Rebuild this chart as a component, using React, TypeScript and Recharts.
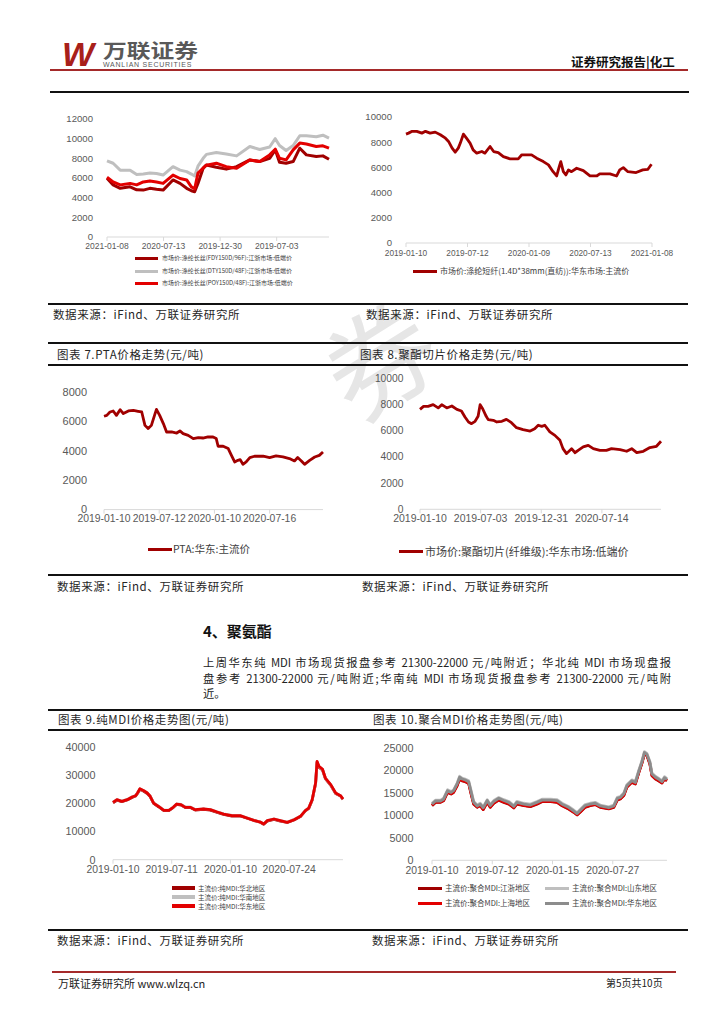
import React from "react";
import { LineChart, Line, XAxis, YAxis } from "recharts";

const CJK = "'Noto Sans CJK SC', 'Noto Sans', sans-serif";
const SANS = "'Liberation Sans', Arial, sans-serif";
const DARK_RED = "#a00000";
const RED = "#e30000";
const LIGHT_GRAY = "#bfbfbf";
const GRAY = "#8c8c8c";

// ---- chart 1: 涤纶长丝 (time runs right to left) ----
const c1Ticks = [0, 120, 240, 360];
const c1Labels = ["2021-01-08", "2020-07-13", "2019-12-30", "2019-07-03"];
const c1Days = [0, 13, 28, 49, 63, 77, 91, 105, 119, 140, 155, 169, 179, 186, 193, 204, 211, 232, 253, 275, 303, 324, 345, 357, 366, 380, 395, 409, 423, 444, 458, 471];
const c1Fdy = [5970, 5300, 4950, 5100, 4800, 4770, 4950, 4850, 4770, 5800, 5450, 4950, 4700, 4600, 5450, 7000, 7330, 7100, 6900, 7150, 7840, 7670, 8000, 8860, 7600, 7500, 7670, 9030, 8350, 8180, 8250, 7900];
const c1Dty = [7750, 7500, 6800, 6800, 6350, 6400, 6500, 6450, 6300, 7150, 6800, 6650, 6400, 6200, 7200, 8000, 8400, 8600, 8450, 8250, 9200, 8900, 9150, 10000, 9300, 8800, 9300, 10300, 10300, 10200, 10350, 10050];
const c1Poy = [6070, 5600, 5300, 5450, 5300, 5600, 5700, 5600, 5450, 6300, 5950, 5800, 5100, 4900, 6500, 7000, 7300, 7500, 7150, 7000, 7840, 7670, 8350, 8930, 8000, 7840, 8860, 9550, 9450, 9200, 9270, 9030];

// ---- chart 2: 涤纶短纤 ----
const c2Ticks = [0, 120, 240, 360, 480];
const c2Labels = ["2019-01-10", "2019-07-12", "2020-01-09", "2020-07-13", "2021-01-08"];
const c2Days = [0, 5, 12, 21, 31, 38, 47, 57, 67, 77, 83, 90, 96, 102, 106, 112, 118, 125, 131, 138, 148, 154, 164, 171, 180, 190, 203, 219, 226, 235, 245, 255, 268, 278, 287, 294, 299, 302, 307, 312, 317, 323, 333, 346, 359, 372, 378, 398, 411, 417, 424, 433, 449, 462, 472, 479];
const c2Psf = [8640, 8720, 8860, 8860, 8720, 8860, 8720, 8800, 8590, 8320, 8060, 7530, 7210, 7530, 7930, 8640, 8320, 7930, 7390, 7130, 7260, 7130, 7660, 7260, 7180, 6860, 6680, 6680, 7000, 7000, 7000, 6730, 6460, 6200, 5660, 5320, 6060, 6460, 5660, 5400, 5800, 5660, 5930, 5740, 5320, 5320, 5480, 5480, 5320, 5800, 5980, 5660, 5590, 5800, 5850, 6250];

// ---- chart 7: PTA ----
const c7Ticks = [0, 120, 240, 360];
const c7Labels = ["2019-01-10", "2019-07-12", "2020-01-10", "2020-07-16"];
const c7Days = [0, 6, 13, 20, 27, 35, 42, 53, 64, 74, 82, 89, 96, 103, 111, 114, 121, 129, 136, 147, 158, 165, 172, 183, 194, 205, 215, 226, 237, 244, 248, 259, 270, 277, 284, 291, 296, 302, 309, 317, 327, 346, 360, 374, 389, 403, 414, 421, 429, 436, 447, 458, 468, 476];
const c7Pta = [6350, 6410, 6640, 6710, 6410, 6800, 6530, 6710, 6750, 6690, 6640, 5730, 5510, 5730, 6530, 6820, 6410, 5850, 5280, 5280, 5210, 5350, 5170, 5050, 4830, 4900, 4870, 4940, 4940, 4830, 4310, 4310, 4150, 3690, 3240, 3350, 3400, 3080, 3240, 3540, 3630, 3630, 3540, 3650, 3580, 3470, 3310, 3540, 3310, 3080, 3350, 3580, 3690, 3920];

// ---- chart 8: 聚酯切片 ----
const c8Ticks = [0, 120, 240, 360];
const c8Labels = ["2019-01-10", "2019-07-03", "2019-12-31", "2020-07-14"];
const c8Days = [0, 7, 16, 26, 36, 43, 53, 63, 73, 82, 89, 96, 102, 109, 115, 119, 124, 131, 135, 145, 152, 162, 171, 181, 191, 204, 218, 227, 234, 241, 247, 257, 267, 277, 283, 290, 300, 307, 313, 323, 333, 343, 356, 369, 379, 396, 409, 419, 429, 442, 455, 468, 477];
const c8Chip = [7610, 7840, 7840, 7970, 7720, 7970, 7720, 7870, 7610, 7490, 7030, 6650, 6520, 6700, 7080, 7970, 7660, 7080, 6830, 6780, 6650, 6700, 6850, 6600, 6220, 6070, 5960, 6140, 6400, 6320, 6400, 5890, 5630, 5250, 4620, 4240, 4620, 4310, 4490, 4750, 4870, 4620, 4490, 4490, 4620, 4540, 4420, 4620, 4310, 4420, 4700, 4800, 5180];

// ---- chart 9: 纯MDI ----
const c9Ticks = [0, 120, 240, 360];
const c9Labels = ["2019-01-10", "2019-07-11", "2020-01-10", "2020-07-24"];
const c9Days = [0, 8, 18, 29, 39, 46, 50, 55, 63, 70, 76, 83, 93, 104, 114, 123, 130, 139, 148, 158, 168, 185, 199, 213, 226, 243, 260, 274, 288, 301, 308, 315, 329, 342, 356, 370, 383, 393, 400, 407, 414, 417, 421, 428, 434, 445, 455, 465, 470];
const c9North = [20200, 21100, 20600, 21200, 22100, 22600, 23500, 25000, 24300, 23500, 22400, 20000, 18800, 17400, 17400, 18500, 19600, 19400, 18500, 18500, 17600, 17900, 17600, 16800, 16100, 15500, 15500, 14700, 13900, 13300, 12600, 13700, 14300, 13700, 13200, 14100, 15300, 17300, 18200, 21100, 27000, 34500, 32800, 31900, 28800, 26400, 23500, 22600, 21400];
const c9South = [20400, 21300, 20800, 21400, 22300, 22800, 23700, 25100, 24500, 23700, 22600, 20200, 19000, 17600, 17600, 18600, 19800, 19600, 18700, 18700, 17800, 18000, 17800, 17000, 16300, 15700, 15700, 14900, 14000, 13400, 12700, 13900, 14500, 13900, 13300, 14300, 15400, 17400, 18400, 21300, 27100, 34700, 33000, 32100, 28900, 26500, 23600, 22700, 21500];
const c9East = [20350, 21300, 20700, 21300, 22250, 22700, 23670, 25200, 24500, 23670, 22500, 20100, 18930, 17510, 17510, 18580, 19760, 19530, 18580, 18580, 17750, 17990, 17750, 16920, 16210, 15620, 15620, 14790, 13960, 13370, 12660, 13850, 14440, 13850, 13250, 14200, 15380, 17400, 18340, 21300, 27220, 34910, 33140, 32190, 28990, 26630, 23670, 22720, 21540];

// ---- chart 10: 聚合MDI ----
const c10Ticks = [0, 120, 240, 360];
const c10Labels = ["2019-01-10", "2019-07-12", "2020-01-15", "2020-07-27"];
const c10Days = [0, 7, 17, 23, 31, 38, 43, 50, 55, 60, 66, 73, 78, 83, 90, 96, 102, 110, 116, 123, 133, 143, 153, 163, 169, 183, 196, 209, 219, 236, 249, 259, 272, 282, 289, 295, 305, 315, 325, 335, 352, 362, 369, 375, 382, 388, 398, 405, 412, 418, 423, 428, 434, 438, 445, 451, 458, 463, 468];
const c10Jiangzhe = [12140, 12880, 12900, 13250, 15100, 14750, 15100, 16600, 18100, 17700, 17500, 17100, 14700, 12500, 11800, 12150, 11300, 12900, 11800, 12700, 13400, 12900, 12500, 11650, 12500, 12150, 11950, 12500, 13050, 13050, 12900, 12150, 11400, 10700, 10100, 10700, 11800, 12150, 12400, 11800, 11450, 11800, 13400, 13650, 14400, 16250, 17350, 17000, 19600, 21600, 23650, 23300, 21400, 18850, 18100, 17700, 17200, 18100, 17700];
const c10Shandong = [12700, 13400, 13400, 13800, 15700, 15300, 15700, 17200, 18700, 18300, 18100, 17700, 15500, 13100, 12300, 12700, 11900, 13500, 12400, 13300, 14000, 13500, 13100, 12200, 13100, 12700, 12500, 13100, 13600, 13600, 13500, 12700, 12000, 11200, 10600, 11300, 12400, 12700, 12900, 12300, 11900, 12300, 14000, 14200, 15000, 16800, 17900, 17600, 20100, 22100, 24200, 23800, 22000, 19400, 18700, 18300, 17700, 18600, 18200];
const c10Shanghai = [12240, 12980, 12980, 13350, 15210, 14840, 15210, 16690, 18180, 17800, 17580, 17210, 14840, 12610, 11870, 12240, 11350, 12980, 11870, 12760, 13500, 12980, 12610, 11720, 12610, 12240, 12020, 12610, 13130, 13130, 12980, 12240, 11500, 10760, 10160, 10760, 11870, 12240, 12460, 11870, 11500, 11870, 13500, 13720, 14470, 16320, 17430, 17060, 19660, 21660, 23740, 23370, 21510, 18920, 18180, 17800, 17280, 18180, 17800];
const c10Huadong = [12500, 13200, 13200, 13600, 15500, 15100, 15500, 17000, 18500, 18100, 17900, 17500, 15200, 12900, 12100, 12500, 11700, 13300, 12200, 13100, 13800, 13300, 12900, 12000, 12900, 12500, 12300, 12900, 13400, 13400, 13300, 12500, 11800, 11000, 10400, 11100, 12200, 12500, 12700, 12100, 11700, 12100, 13800, 14000, 14800, 16600, 17700, 17300, 19900, 21900, 24000, 23600, 21800, 19200, 18500, 18100, 17500, 18400, 18000];

type Series = { name: string; color: string; width: number; xs: number[]; ys: number[] };
type Box = { left: number; right: number; top: number; bottom: number };

const YW = 60;
const MT = 10;
const MR = 30;
const XH = 26;

function PriceChart(props: {
  box: Box;
  yTicks: number[];
  xMax: number;
  xTicks: number[];
  xLabels: string[];
  series: Series[];
  yFont: number;
  xFont: number;
  yGap: number;
  xGap: number;
}) {
  const { box, yTicks, xMax, xTicks, xLabels, series, yFont, xFont, yGap, xGap } = props;
  const left = box.left - YW;
  const top = box.top - MT;
  const width = box.right - left + MR;
  const height = MT + (box.bottom - box.top) + XH;
  return (
    <div style={{ position: "absolute", left, top }}>
      <LineChart width={width} height={height} margin={{ top: MT, right: MR, bottom: 0, left: 0 }}>
        <XAxis
          type="number"
          dataKey="t"
          domain={[0, xMax]}
          ticks={xTicks}
          interval={0}
          tickFormatter={(v: number) => xLabels[xTicks.indexOf(v)] ?? ""}
          height={XH}
          stroke="#d9d9d9"
          tickSize={4}
          tickMargin={xGap}
          tick={{ fontSize: xFont, fill: "#595959", fontFamily: SANS }}
        />
        <YAxis
          type="number"
          domain={[0, yTicks[yTicks.length - 1]]}
          ticks={yTicks}
          interval={0}
          width={YW}
          axisLine={false}
          tickLine={false}
          tickSize={0}
          tickMargin={yGap}
          tick={{ fontSize: yFont, fill: "#595959", fontFamily: SANS }}
        />
        {series.map((s) => (
          <Line
            key={s.name}
            data={s.xs.map((t, i) => ({ t, v: s.ys[i] }))}
            dataKey="v"
            name={s.name}
            type="linear"
            stroke={s.color}
            strokeWidth={s.width}
            strokeLinejoin="round"
            dot={false}
            activeDot={false}
            isAnimationActive={false}
          />
        ))}
      </LineChart>
    </div>
  );
}

function Txt(props: { x: number; y: number; size: number; children: React.ReactNode; style?: React.CSSProperties }) {
  const { x, y, size, children, style } = props;
  return (
    <div
      style={{
        position: "absolute",
        left: x,
        top: y - size / 2,
        fontSize: size,
        lineHeight: `${size}px`,
        whiteSpace: "nowrap",
        ...style,
      }}
    >
      {children}
    </div>
  );
}

function Rule(props: { y: number; x1: number; x2: number; t?: number; color?: string }) {
  const t = props.t ?? 1.5;
  return (
    <div
      style={{
        position: "absolute",
        left: props.x1,
        top: props.y - t / 2,
        width: props.x2 - props.x1,
        height: t,
        background: props.color ?? "#111",
      }}
    />
  );
}

function Key(props: { x: number; y: number; len: number; thick: number; color: string; label: string; size: number; gap: number }) {
  const { x, y, len, thick, color, label, size, gap } = props;
  return (
    <div
      style={{
        position: "absolute",
        left: x,
        top: y - size / 2 - 1,
        height: size + 2,
        display: "flex",
        alignItems: "center",
        whiteSpace: "nowrap",
      }}
    >
      <span style={{ display: "inline-block", width: len, height: thick, background: color, marginRight: gap }} />
      <span style={{ fontSize: size, lineHeight: 1, color: "#404040", fontFamily: CJK }}>{label}</span>
    </div>
  );
}

const SRC = "数据来源：iFind、万联证券研究所";

export default function App() {
  const c1Series: Series[] = [
    { name: "市场价:涤纶长丝(FDY150D/96F):江浙市场:低端价", color: DARK_RED, width: 3, xs: c1Days, ys: c1Fdy },
    { name: "市场价:涤纶长丝(DTY150D/48F):江浙市场:低端价", color: LIGHT_GRAY, width: 3, xs: c1Days, ys: c1Dty },
    { name: "市场价:涤纶长丝(POY150D/48F):江浙市场:低端价", color: RED, width: 3, xs: c1Days, ys: c1Poy },
  ];
  const c2Series: Series[] = [
    { name: "市场价:涤纶短纤(1.4D*38mm(直纺)):华东市场:主流价", color: DARK_RED, width: 2.8, xs: c2Days, ys: c2Psf },
  ];
  const c7Series: Series[] = [{ name: "PTA:华东:主流价", color: DARK_RED, width: 2.8, xs: c7Days, ys: c7Pta }];
  const c8Series: Series[] = [
    { name: "市场价:聚酯切片(纤维级):华东市场:低端价", color: DARK_RED, width: 2.8, xs: c8Days, ys: c8Chip },
  ];
  const c9Series: Series[] = [
    { name: "主流价:纯MDI:华北地区", color: DARK_RED, width: 2.8, xs: c9Days, ys: c9North },
    { name: "主流价:纯MDI:华南地区", color: LIGHT_GRAY, width: 2.8, xs: c9Days, ys: c9South },
    { name: "主流价:纯MDI:华东地区", color: RED, width: 2.8, xs: c9Days, ys: c9East },
  ];
  const c10Series: Series[] = [
    { name: "主流价:聚合MDI:江浙地区", color: DARK_RED, width: 2.8, xs: c10Days, ys: c10Jiangzhe },
    { name: "主流价:聚合MDI:上海地区", color: RED, width: 2.8, xs: c10Days, ys: c10Shanghai },
    { name: "主流价:聚合MDI:山东地区", color: LIGHT_GRAY, width: 2.8, xs: c10Days, ys: c10Shandong },
    { name: "主流价:聚合MDI:华东地区", color: GRAY, width: 2.8, xs: c10Days, ys: c10Huadong },
  ];

  const textStyle: React.CSSProperties = { color: "#262626", fontFamily: CJK, letterSpacing: 0.6 };

  return (
    <div
      style={{
        position: "relative",
        width: 724,
        height: 1024,
        margin: -8,
        background: "#fff",
        overflow: "hidden",
        fontFamily: CJK,
      }}
    >
      {/* watermark */}
      <div
        style={{
          position: "absolute",
          left: 322,
          top: 300,
          fontSize: 110,
          lineHeight: "110px",
          color: "#e6e6e6",
          fontWeight: 400,
          transform: "rotate(-32deg)",
          fontFamily: CJK,
        }}
      >
        券
      </div>

      {/* header */}
      <Txt x={62} y={54} size={34} style={{ color: "#a8201a", fontFamily: SANS, fontWeight: 900, fontStyle: "italic", letterSpacing: -2 }}>
        W
      </Txt>
      <Txt x={103} y={49} size={19} style={{ color: "#595959", fontWeight: 700, transform: "scaleX(1.25)", transformOrigin: "left center" }}>
        万联证券
      </Txt>
      <Txt x={103} y={64} size={7} style={{ color: "#595959", fontFamily: SANS, letterSpacing: 0.75 }}>
        WANLIAN SECURITIES
      </Txt>
      <Txt x={571} y={62} size={12.5} style={{ color: "#111", fontWeight: 700 }}>
        证券研究报告|化工
      </Txt>
      <Rule y={69.5} x1={50} x2={688} t={2} color="#a52a2a" />
      <Rule y={92} x1={50} x2={689} t={1.5} />

      {/* row 1 charts */}
      <PriceChart box={{ left: 107, right: 329, top: 119, bottom: 237 }} yTicks={[0, 2000, 4000, 6000, 8000, 10000, 12000]} xMax={471} xTicks={c1Ticks} xLabels={c1Labels} series={c1Series} yFont={9.6} xFont={8.5} yGap={14} xGap={2} />
      <Key x={135} y={258} len={23} thick={3} color={DARK_RED} label={c1Series[0].name} size={6} gap={4} />
      <Key x={135} y={271} len={23} thick={3} color={LIGHT_GRAY} label={c1Series[1].name} size={6} gap={4} />
      <Key x={135} y={283} len={23} thick={3} color={RED} label={c1Series[2].name} size={6} gap={4} />

      <PriceChart box={{ left: 406, right: 652, top: 117, bottom: 243 }} yTicks={[0, 2000, 4000, 6000, 8000, 10000]} xMax={480} xTicks={c2Ticks} xLabels={c2Labels} series={c2Series} yFont={9.6} xFont={8.3} yGap={14} xGap={3} />
      <Key x={413} y={271} len={24} thick={3} color={DARK_RED} label={c2Series[0].name} size={8} gap={3} />

      <Rule y={304} x1={48} x2={688} />
      <Txt x={53} y={315} size={11.5} style={textStyle}>{SRC}</Txt>
      <Txt x={366} y={315} size={11.5} style={textStyle}>{SRC}</Txt>
      <Rule y={343} x1={48} x2={688} t={2} />
      <Txt x={57} y={355} size={11.5} style={textStyle}>图表 7.PTA价格走势(元/吨)</Txt>
      <Txt x={360} y={355} size={11.5} style={textStyle}>图表 8.聚酯切片价格走势(元/吨)</Txt>
      <Rule y={365} x1={48} x2={688} />

      {/* row 2 charts */}
      <PriceChart box={{ left: 104, right: 323, top: 391.7, bottom: 509.3 }} yTicks={[0, 2000, 4000, 6000, 8000]} xMax={476} xTicks={c7Ticks} xLabels={c7Labels} series={c7Series} yFont={11} xFont={10.4} yGap={17} xGap={1.5} />
      <Key x={148} y={549} len={24} thick={3} color={DARK_RED} label={c7Series[0].name} size={10.5} gap={1} />

      <PriceChart box={{ left: 420, right: 661, top: 377.7, bottom: 509 }} yTicks={[0, 2000, 4000, 6000, 8000, 10000]} xMax={477} xTicks={c8Ticks} xLabels={c8Labels} series={c8Series} yFont={10.3} xFont={10.5} yGap={16.5} xGap={1.5} />
      <Key x={399} y={551} len={24} thick={3} color={DARK_RED} label={c8Series[0].name} size={11} gap={2} />

      <Rule y={575} x1={48} x2={688} />
      <Txt x={57} y={587} size={11.5} style={textStyle}>{SRC}</Txt>
      <Txt x={362} y={587} size={11.5} style={textStyle}>{SRC}</Txt>

      {/* section text */}
      <Txt x={203} y={630} size={15} style={{ color: "#111", fontWeight: 700 }}>4、聚氨酯</Txt>
      {[
        "上周华东纯 MDI 市场现货报盘参考 21300-22000 元/吨附近；华北纯 MDI 市场现盘报",
        "盘参考 21300-22000 元/吨附近;华南纯 MDI 市场现货报盘参考 21300-22000 元/吨附",
      ].map((line, i) => (
        <div
          key={i}
          style={{
            position: "absolute",
            left: 203,
            top: 661.7 + i * 16.2 - 6,
            width: 468,
            fontSize: 11.3,
            lineHeight: "12px",
            textAlign: "justify",
            textAlignLast: "justify",
            whiteSpace: "nowrap",
            color: "#222",
          }}
        >
          {line}
        </div>
      ))}
      <Txt x={203} y={694} size={11.3} style={{ color: "#222" }}>近。</Txt>

      <Rule y={710} x1={48} x2={688} t={2} />
      <Txt x={58} y={720} size={11.5} style={textStyle}>图表 9.纯MDI价格走势图(元/吨)</Txt>
      <Txt x={373} y={720} size={11.5} style={textStyle}>图表 10.聚合MDI价格走势图(元/吨)</Txt>
      <Rule y={730} x1={48} x2={688} />

      {/* row 3 charts */}
      <PriceChart box={{ left: 112.7, right: 342.7, top: 747.3, bottom: 860 }} yTicks={[0, 10000, 20000, 30000, 40000]} xMax={470} xTicks={c9Ticks} xLabels={c9Labels} series={c9Series} yFont={10.8} xFont={10.4} yGap={17.5} xGap={2} />
      <Key x={172} y={888} len={23} thick={3.5} color={DARK_RED} label={c9Series[0].name} size={6.5} gap={3} />
      <Key x={172} y={897} len={23} thick={3.5} color={LIGHT_GRAY} label={c9Series[1].name} size={6.5} gap={3} />
      <Key x={172} y={906} len={23} thick={3.5} color={RED} label={c9Series[2].name} size={6.5} gap={3} />

      <PriceChart box={{ left: 431.7, right: 666.7, top: 747.7, bottom: 860 }} yTicks={[0, 5000, 10000, 15000, 20000, 25000]} xMax={468} xTicks={c10Ticks} xLabels={c10Labels} series={c10Series} yFont={10.8} xFont={10.4} yGap={18.5} xGap={2} />
      <Key x={418} y={888} len={24} thick={3} color={DARK_RED} label={c10Series[0].name} size={7.5} gap={3} />
      <Key x={545} y={888} len={24} thick={3} color={LIGHT_GRAY} label={c10Series[2].name} size={7.5} gap={3} />
      <Key x={418} y={903} len={24} thick={3} color={RED} label={c10Series[1].name} size={7.5} gap={3} />
      <Key x={545} y={903} len={24} thick={3} color={GRAY} label={c10Series[3].name} size={7.5} gap={3} />

      <Rule y={930} x1={48} x2={688} />
      <Txt x={57} y={941} size={11.5} style={textStyle}>{SRC}</Txt>
      <Txt x={372} y={941} size={11.5} style={textStyle}>{SRC}</Txt>

      {/* footer */}
      <Rule y={972} x1={52} x2={676} t={2} color="#a52a2a" />
      <Txt x={58} y={983} size={11} style={{ color: "#222" }}>万联证券研究所 www.wlzq.cn</Txt>
      <Txt x={606} y={983} size={10} style={{ color: "#222" }}>第5页共10页</Txt>
    </div>
  );
}
